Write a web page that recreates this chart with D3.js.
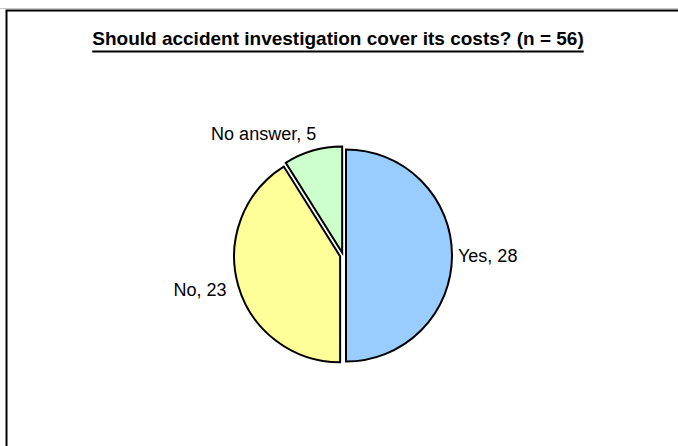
<!DOCTYPE html>
<html>
<head>
<meta charset="utf-8">
<script src="https://cdn.jsdelivr.net/npm/d3@7"></script>
<style>
  html, body { margin: 0; padding: 0; background: #fff; }
  svg { display: block; }
</style>
</head>
<body>
<svg id="chart" width="678" height="446"></svg>
<script>
// Survey answers
const categories = ["Yes", "No", "No answer"];
const counts = [28, 23, 5];
const sliceColors = ["#99CCFF", "#FFFF99", "#CCFFCC"];
const titleText = "Should accident investigation cover its costs? (n = 56)";

const svg = d3.select("#chart");
const W = 678, H = 446;

// Chart area frame
svg.append("line")
  .attr("x1", 0).attr("x2", W).attr("y1", 8.5).attr("y2", 8.5)
  .attr("stroke", "#c8c8c8").attr("stroke-width", 1);
svg.append("rect")
  .attr("x", 6.5).attr("y", 10.5)
  .attr("width", W + 20).attr("height", H + 20)
  .attr("fill", "#fff").attr("stroke", "#000").attr("stroke-width", 2);

// Title with underline
const title = svg.append("text")
  .attr("x", 338).attr("y", 45)
  .attr("text-anchor", "middle")
  .attr("font-family", "Liberation Sans, Arial, sans-serif")
  .attr("font-size", 19).attr("font-weight", "bold")
  .attr("fill", "#000")
  .text(titleText);
const tb = title.node().getBBox();
svg.append("line")
  .attr("x1", tb.x).attr("x2", tb.x + tb.width)
  .attr("y1", 51.5).attr("y2", 51.5)
  .attr("stroke", "#000").attr("stroke-width", 2);

// Pie
const cx = 343, cy = 255.5, R = 106, explode = 3;
const data = categories.map((c, i) => ({ cat: c, value: counts[i], color: sliceColors[i] }));
const pie = d3.pie().sort(null).value(d => d.value).startAngle(0).endAngle(2 * Math.PI);
const arc = d3.arc().innerRadius(0).outerRadius(R);
const arcs = pie(data);

const g = svg.append("g").attr("transform", `translate(${cx},${cy})`);

g.selectAll("path")
  .data(arcs)
  .join("path")
  .attr("transform", d => {
    const a = (d.startAngle + d.endAngle) / 2;
    return `translate(${Math.sin(a) * explode},${-Math.cos(a) * explode})`;
  })
  .attr("d", arc)
  .attr("fill", d => d.data.color)
  .attr("stroke", "#000")
  .attr("stroke-width", 2)
  .attr("stroke-linejoin", "miter");

// Category labels outside the slices
const labelR = R + explode + 6;
const nudges = { "Yes": [0, 0], "No": [-6, 2], "No answer": [5, -11] };
g.selectAll("text.lbl")
  .data(arcs)
  .join("text")
  .attr("class", "lbl")
  .attr("x", d => {
    const a = (d.startAngle + d.endAngle) / 2;
    return Math.sin(a) * labelR + nudges[d.data.cat][0];
  })
  .attr("y", d => {
    const a = (d.startAngle + d.endAngle) / 2;
    return -Math.cos(a) * labelR + nudges[d.data.cat][1];
  })
  .attr("dy", "0.35em")
  .attr("text-anchor", d => Math.sin((d.startAngle + d.endAngle) / 2) >= 0 ? "start" : "end")
  .attr("font-family", "Liberation Sans, Arial, sans-serif")
  .attr("font-size", 18)
  .attr("fill", "#000")
  .text(d => `${d.data.cat}, ${d.data.value}`);
</script>
</body>
</html>
